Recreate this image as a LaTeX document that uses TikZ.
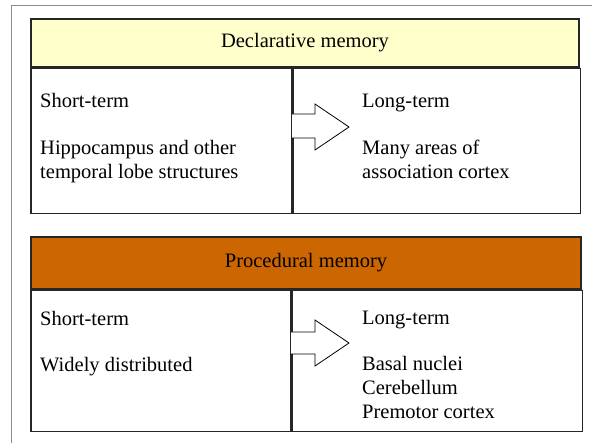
\documentclass[tikz,border=0pt]{standalone}
\usepackage{fontspec}
\setmainfont{Liberation Serif}
\usetikzlibrary{positioning}
\definecolor{declfill}{HTML}{FFFFCC}
\definecolor{procfill}{HTML}{CC6600}
\tikzstyle{header} = [rectangle, draw=black!85, line width=1.3pt, inner sep=0pt, text centered, font=\fontsize{20.5}{24}\selectfont]
\tikzstyle{cell} = [rectangle, draw=black!85, line width=1.3pt, inner sep=0pt, fill=white]
\tikzstyle{celltext} = [anchor=base west, align=left, inner sep=0pt, font=\fontsize{20.5}{24}\selectfont]
\tikzstyle{bigarrow} = [draw=black, fill=white, line width=0.8pt, line join=miter]
\tikzstyle{frame} = [draw=black!45, line width=1pt]

\begin{document}
\begin{tikzpicture}[x=1pt, y=-1pt]

\useasboundingbox (0,0) rectangle (592,443);
\draw [frame] (11,443) -- (11,6) -- (592,6);

% declarative memory
\node (declhead) [header, fill=declfill, minimum width=548pt, minimum height=48pt] at (305,43) {Declarative memory};
\node (declshort) [cell, minimum width=261pt, minimum height=145pt, below=0pt of declhead.south west, anchor=north west] {};
\node (decllong) [cell, minimum width=287pt, minimum height=145pt, right=0pt of declshort.north east, anchor=north west] {};
\node (declshorttext) [celltext] at (40,179) {Short-term\\[23pt]Hippocampus and other\\temporal lobe structures};
\node (decllongtext) [celltext] at (362,179) {Long-term\\[23pt]Many areas of\\association cortex};
\draw [bigarrow] (292,114) -- (315,114) -- (315,104) -- (349,127) -- (315,150) -- (315,138) -- (292,138);

% procedural memory
\node (prochead) [header, fill=procfill, minimum width=550pt, minimum height=52pt] at (306,263) {Procedural memory};
\node (procshort) [cell, minimum width=260pt, minimum height=141pt, below=0pt of prochead.south west, anchor=north west] {};
\node (proclong) [cell, minimum width=290pt, minimum height=141pt, right=0pt of procshort.north east, anchor=north west] {};
\node (procshorttext) [celltext] at (40,372) {Short-term\\[22pt]Widely distributed};
\node (proclongtext) [celltext] at (362,419) {Long-term\\[22pt]Basal nuclei\\Cerebellum\\Premotor cortex};
\draw [bigarrow] (291,332) -- (315,332) -- (315,320) -- (349,343) -- (315,366) -- (315,354) -- (291,354);

\end{tikzpicture}
\end{document}
